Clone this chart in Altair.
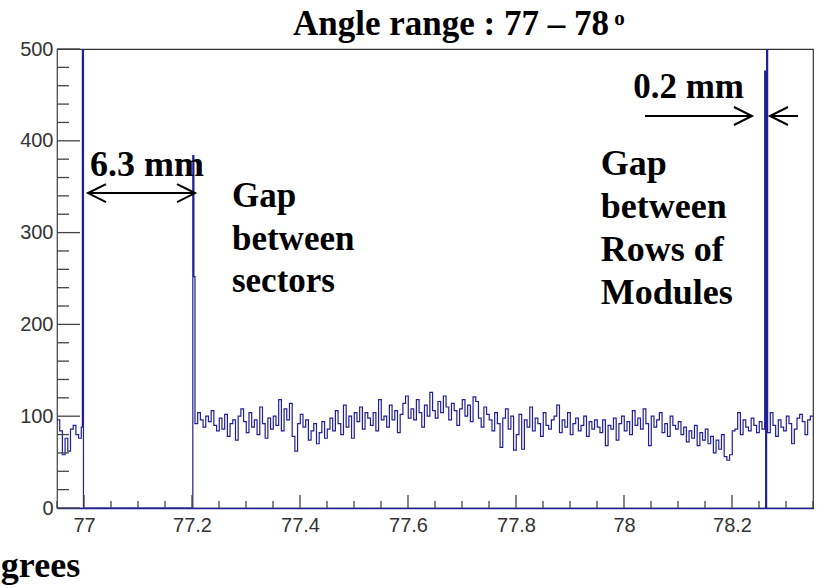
import altair as alt
import pandas as pd

# ---------------- data ----------------
X_MIN, X_MAX = 76.95, 78.35
Y_MIN, Y_MAX = 0, 500

LEFT = [96, 84, 58, 76, 62, 86, 90, 80, 76]
LEFT_END = [88]
SPIKE_A = [560]
GAP = [0]
SPIKE_B = [384, 252]
MID = [
    92, 104, 96, 88, 100, 94, 106, 90, 84, 98,
    86, 102, 78, 92, 96, 74, 100, 108, 94, 82,
    104, 88, 96, 80, 110, 92, 76, 98, 86, 100,
    90, 118, 84, 108, 96, 114, 78, 62, 92, 102,
    88, 96, 74, 84, 92, 70, 82, 94, 76, 86,
    98, 84, 106, 92, 80, 112, 88, 100, 76, 104,
    94, 110, 86, 104, 98, 90, 104, 84, 118, 96,
    100, 88, 112, 96, 106, 82, 102, 114, 122, 98,
    108, 96, 118, 104, 88, 112, 100, 126, 106, 98,
    116, 104, 122, 110, 96, 114, 106, 90, 108, 118,
    100, 112, 94, 121, 116, 98, 88, 110, 102, 96,
    84, 104, 92, 66, 98, 108, 86, 100, 63, 80,
    102, 64, 96, 88, 110, 84, 98, 92, 78, 104,
    90, 86, 96, 100, 112, 82, 96, 88, 104, 80,
    92, 98, 84, 90, 100, 78, 94, 86, 96, 88,
    82, 96, 68, 90, 86, 98, 74, 92, 100, 84,
    94, 80, 106, 90, 98, 86, 108, 92, 68, 100,
    88, 96, 104, 82, 92, 78, 100, 90, 86, 94,
    80, 88, 72, 84, 76, 90, 68, 82, 74, 86,
    70, 78, 60, 74, 64, 80, 56, 52, 58, 84,
    86, 104, 80, 96, 88, 84, 98, 90, 82, 94,
    86,
]
SPIKE_C = [476, 0, 560]
RIGHT = [82, 104, 90, 78, 96, 88, 84, 100, 92, 70, 86, 98, 102, 94, 80, 96, 100]

X_LABELS = [77, 77.2, 77.4, 77.6, 77.8, 78, 78.2]
Y_LABELS = [0, 100, 200, 300, 400, 500]

# bin layout: (start, width, values)
segments = [
    (76.95, 0.005, LEFT),
    (76.995, 0.002, LEFT_END),
    (76.997, 0.002, SPIKE_A),
    (76.999, 0.2025, GAP),
    (77.2015, 0.002, SPIKE_B),
    (77.2055, (78.2605 - 77.2055) / len(MID), MID),
    (78.2605, 0.0018, SPIKE_C),
    (78.266, (X_MAX - 78.266) / len(RIGHT), RIGHT),
]
xs, ys = [], []
for start, w, vals in segments:
    for i, v in enumerate(vals):
        xs.append(start + i * w)
        ys.append(v)
xs.append(X_MAX)
ys.append(RIGHT[-1])
hist = pd.DataFrame({"x": xs, "count": ys})

# ---------------- geometry ----------------
W, H = 756, 459
PX_X = W / (X_MAX - X_MIN)   # px per degree
PX_Y = H / (Y_MAX - Y_MIN)   # px per count

BLUE = "#1f1f96"
SERIF = "Liberation Serif"
SANS = "Liberation Sans"

xs_scale = alt.Scale(domain=[X_MIN, X_MAX], nice=False, zero=False)
ys_scale = alt.Scale(domain=[Y_MIN, Y_MAX], nice=False)

line = alt.Chart(hist).mark_line(
    interpolate="step-after", clip=True, color=BLUE, strokeWidth=1.2
).encode(
    x=alt.X("x:Q", scale=xs_scale,
            axis=alt.Axis(values=X_LABELS, ticks=False, grid=False, title=None,
                          labelFont=SANS, labelFontSize=20, labelColor="#333333",
                          labelPadding=7, labelFlush=False, domainColor=BLUE,
                          domainWidth=1.5, format="~g")),
    y=alt.Y("count:Q", scale=ys_scale,
            axis=alt.Axis(values=Y_LABELS, ticks=False, grid=False, title=None,
                          labelFont=SANS, labelFontSize=20, labelColor="#333333",
                          labelPadding=4, domainColor="#555555", format="d")),
)

# inward ticks (ROOT style)
y_major = pd.DataFrame({"y": Y_LABELS, "x0": X_MIN, "x1": X_MIN + 23 / PX_X})
y_minor_vals = [v for v in range(20, 500, 20) if v % 100 != 0]
y_minor = pd.DataFrame({"y": y_minor_vals, "x0": X_MIN, "x1": X_MIN + 12 / PX_X})
x_minor_vals = [round(X_MIN + 0.05 * k, 2) for k in range(0, 29)]
x_minor_vals = [v for v in x_minor_vals if v not in X_LABELS]
x_major = pd.DataFrame({"x": X_LABELS, "y0": 0, "y1": 13 / PX_Y})
x_minor = pd.DataFrame({"x": x_minor_vals, "y0": 0, "y1": 7 / PX_Y})

tick_col = "#444444"
ytick_major = alt.Chart(y_major).mark_rule(color=tick_col, strokeWidth=1.3).encode(
    x=alt.X("x0:Q", scale=xs_scale), x2="x1:Q", y=alt.Y("y:Q", scale=ys_scale))
ytick_minor = alt.Chart(y_minor).mark_rule(color=tick_col, strokeWidth=1.3).encode(
    x=alt.X("x0:Q", scale=xs_scale), x2="x1:Q", y=alt.Y("y:Q", scale=ys_scale))
xtick_major = alt.Chart(x_major).mark_rule(color=tick_col, strokeWidth=1.3).encode(
    x=alt.X("x:Q", scale=xs_scale), y=alt.Y("y0:Q", scale=ys_scale), y2="y1:Q")
xtick_minor = alt.Chart(x_minor).mark_rule(color=tick_col, strokeWidth=1.3).encode(
    x=alt.X("x:Q", scale=xs_scale), y=alt.Y("y0:Q", scale=ys_scale), y2="y1:Q")

# annotations (data coordinates)
ANN_TEXT = ["Angle range : 77 \u2013 78", "o", "6.3 mm", "Gap", "between", "sectors",
            "0.2 mm", "Gap", "between", "Rows of", "Modules", "grees"]
ANN_X = [77.387, 77.982, 77.011, 77.274, 77.274, 77.274,
         78.017, 77.957, 77.957, 77.957, 77.957, 76.846]
ANN_Y = [515.3, 526.1, 361.7, 327.9, 281.0, 235.3,
         446.6, 362.7, 315.9, 269.1, 222.2, -75.2]
ANN_SIZE = [35, 21, 36, 35, 35, 35, 35, 36, 36, 36, 36, 36]
ann = pd.DataFrame({"t": ANN_TEXT, "x": ANN_X, "y": ANN_Y, "fs": ANN_SIZE})
texts = alt.Chart(ann).mark_text(
    font=SERIF, fontWeight="bold", align="left", baseline="alphabetic", color="black"
).encode(
    x=alt.X("x:Q", scale=xs_scale), y=alt.Y("y:Q", scale=ys_scale),
    text="t:N", size=alt.Size("fs:Q", scale=None),
)

SHAFT_X0 = [77.0074, 78.0389, 78.2704]
SHAFT_X1 = [77.2056, 78.2370, 78.3222]
SHAFT_Y = [343.1, 427.0, 427.0]
shafts = alt.Chart(pd.DataFrame({"x0": SHAFT_X0, "x1": SHAFT_X1, "y": SHAFT_Y})).mark_rule(
    color="black", strokeWidth=2
).encode(x=alt.X("x0:Q", scale=xs_scale), x2="x1:Q", y=alt.Y("y:Q", scale=ys_scale))

RIGHT_HEAD = "M-2,-1L0,0L-2,1"
LEFT_HEAD = "M2,-1L0,0L2,1"
HEAD_X = [77.0074, 77.2056, 78.2370, 78.2704]
HEAD_Y = [343.1, 343.1, 427.0, 427.0]
HEAD_SHAPE = [LEFT_HEAD, RIGHT_HEAD, RIGHT_HEAD, LEFT_HEAD]
heads = alt.Chart(pd.DataFrame({"x": HEAD_X, "y": HEAD_Y, "s": HEAD_SHAPE})).mark_point(
    filled=False, color="black", strokeWidth=2, size=324, opacity=1
).encode(
    x=alt.X("x:Q", scale=xs_scale), y=alt.Y("y:Q", scale=ys_scale),
    shape=alt.Shape("s:N", scale=None),
)

chart = alt.layer(
    line, ytick_major, ytick_minor, xtick_major, xtick_minor, shafts, heads, texts
).properties(
    width=W, height=H,
    autosize=alt.AutoSizeParams(type="none"),
    padding={"left": 57, "top": 49, "right": 4, "bottom": 80},
    background="white",
).configure_view(stroke="#333333", strokeWidth=1.2)

chart.save("out.html", embed_options={"renderer": "svg", "actions": False})
